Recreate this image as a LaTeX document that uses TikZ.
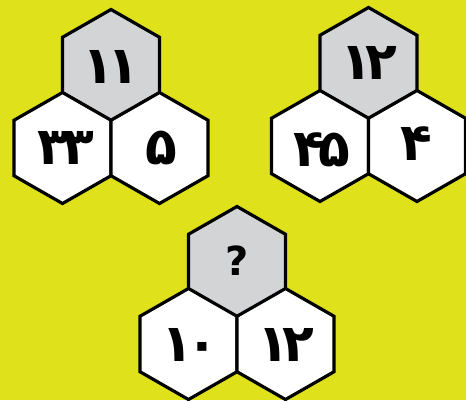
\documentclass[tikz,border=0pt]{standalone}
\usepackage{fontspec}
\newfontfamily\digitfont[Script=Arabic,LetterSpace=-12]{DejaVu Sans}
\newfontfamily\qfont{DejaVu Sans}
\definecolor{bgyellow}{HTML}{DFE21A}
\definecolor{hexgray}{HTML}{D3D4D6}
\tikzset{
  hexline/.style={draw=black, line width=3.2pt, line join=miter},
  numtext/.style={font=\digitfont\bfseries\fontsize{52}{54}\selectfont, inner sep=0pt},
  qtext/.style={font=\qfont\bfseries\fontsize{40}{42}\selectfont, inner sep=0pt}
}
\newcommand{\hexcell}[3]{%
  \fill[#3] (#1,#2-55.5) -- (#1+48.5,#2-27.75) -- (#1+48.5,#2+27.75) -- (#1,#2+55.5) -- (#1-48.5,#2+27.75) -- (#1-48.5,#2-27.75) -- cycle;
  \draw[hexline] (#1,#2-55.5) -- (#1+48.5,#2-27.75) -- (#1+48.5,#2+27.75) -- (#1,#2+55.5) -- (#1-48.5,#2+27.75) -- (#1-48.5,#2-27.75) -- cycle;
}
\begin{document}
\begin{tikzpicture}[x=1pt,y=-1pt]
\fill[bgyellow] (0,0) rectangle (466,400);
\useasboundingbox (0,0) rectangle (466,400);
% cluster 1
\hexcell{111}{65}{hexgray}
\hexcell{62.5}{148}{white}
\hexcell{159.5}{148}{white}
% cluster 2
\hexcell{368.5}{63}{hexgray}
\hexcell{320}{146}{white}
\hexcell{417}{146}{white}
% cluster 3
\hexcell{237}{262}{hexgray}
\hexcell{188.5}{344}{white}
\hexcell{285.5}{344}{white}
% texts
\node[numtext] (t1) at (111,67) {۱۱};
\node[numtext] (b1l) at (66,148) {۳۳};
\node[numtext] (b1r) at (161,148) {۵};
\node[numtext] (t2) at (369,63) {۱۲};
\node[numtext] (b2l) at (322,150) {۴۵};
\node[numtext] (b2r) at (416,144) {۴};
\node[qtext] (t3) at (237,261) {?};
\node[numtext] (b3l) at (190,345) {۱۰};
\node[numtext] (b3r) at (286,345) {۱۲};
\end{tikzpicture}
\end{document}
